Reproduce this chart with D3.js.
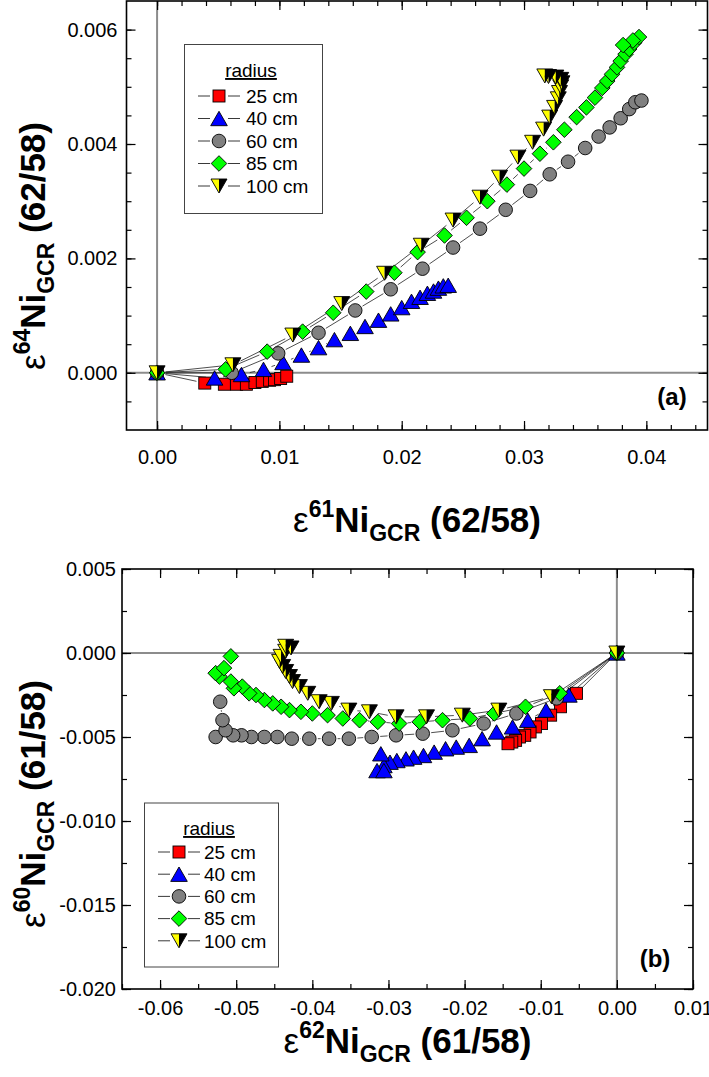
<!DOCTYPE html>
<html><head><meta charset="utf-8">
<script src="https://cdn.jsdelivr.net/npm/d3@7"></script>
<style>body{margin:0;background:#fff}svg{display:block}</style>
</head><body>
<svg id="c" width="709" height="1077"></svg>
<script>
// ---------- data ----------
const radii = ["25 cm", "40 cm", "60 cm", "85 cm", "100 cm"];
const legendTitle = "radius";

// Panel (a): x = ε61Ni_GCR (62/58), y = ε64Ni_GCR (62/58)
const a25x = [0, 0.0039, 0.0055, 0.0065, 0.0073, 0.0080, 0.0086, 0.0092, 0.0096, 0.0101, 0.0106];
const a25y = [0, -0.00018, -0.0002, -0.0002, -0.0002, -0.00017, -0.00015, -0.00013, -0.00012, -0.0001, -0.00006];
const a40x = [0, 0.0047, 0.0069, 0.0087, 0.0103, 0.0118, 0.0132, 0.0145, 0.0158, 0.0170, 0.0181, 0.0191, 0.0200, 0.0208, 0.0215, 0.0221, 0.0226, 0.0230, 0.0234, 0.0238];
const a40y = [0, -0.00009, -0.00003, 0.00006, 0.00018, 0.00031, 0.00044, 0.00058, 0.00069, 0.00081, 0.00092, 0.00103, 0.00114, 0.00125, 0.00132, 0.00139, 0.00143, 0.00148, 0.00152, 0.00153];
const a60x = [0, 0.0061, 0.0099, 0.0132, 0.0162, 0.0191, 0.0217, 0.0242, 0.0264, 0.0285, 0.0305, 0.0321, 0.0336, 0.0350, 0.0361, 0.0370, 0.0379, 0.0386, 0.0391, 0.0396];
const a60y = [0, 0.0000, 0.00034, 0.0007, 0.00109, 0.00146, 0.00182, 0.00219, 0.00252, 0.00285, 0.00318, 0.00347, 0.00369, 0.00393, 0.00413, 0.00429, 0.00445, 0.00461, 0.00473, 0.00476];
const a85x = [0, 0.0056, 0.0090, 0.0119, 0.0144, 0.0171, 0.0194, 0.0213, 0.0235, 0.0253, 0.0270, 0.0286, 0.0300, 0.0313, 0.0324, 0.0333, 0.0343, 0.0351, 0.0358, 0.0364, 0.0368, 0.0372, 0.0376, 0.0379, 0.0383, 0.0386, 0.0390, 0.0394, 0.0389, 0.0381];
const a85y = [0, 0.00006, 0.00037, 0.00072, 0.00105, 0.00142, 0.00175, 0.00211, 0.0024, 0.00271, 0.003, 0.00329, 0.00357, 0.00383, 0.00403, 0.00425, 0.00447, 0.00464, 0.00481, 0.00498, 0.0051, 0.00522, 0.00534, 0.00545, 0.00557, 0.00566, 0.00577, 0.00587, 0.00581, 0.00573];
const a100x = [0, 0.0062, 0.0111, 0.0151, 0.0186, 0.0216, 0.0242, 0.0264, 0.0280, 0.0295, 0.0307, 0.0316, 0.0321, 0.0325, 0.0328, 0.0329, 0.0330, 0.0331, 0.0330, 0.0326, 0.0320, 0.0317];
const a100y = [0, 0.00014, 0.00066, 0.00121, 0.00174, 0.00223, 0.00267, 0.00307, 0.00342, 0.00377, 0.00403, 0.00426, 0.00447, 0.00464, 0.00479, 0.0049, 0.005, 0.00507, 0.00513, 0.00517, 0.00518, 0.00519];

// Panel (b): x = ε62Ni_GCR (61/58), y = ε60Ni_GCR (61/58)
const b25x = [0, -0.0053, -0.0074, -0.0087, -0.0099, -0.0107, -0.0114, -0.0121, -0.0128, -0.0133, -0.0138, -0.0143];
const b25y = [0, -0.0024, -0.0032, -0.0037, -0.0042, -0.0044, -0.0047, -0.0049, -0.0050, -0.0052, -0.0053, -0.0054];
const b40x = [0, -0.0063, -0.0093, -0.0117, -0.0137, -0.0158, -0.0177, -0.0194, -0.0211, -0.0225, -0.0240, -0.0254, -0.0267, -0.0277, -0.0289, -0.0298, -0.0306, -0.0315, -0.0306, -0.0310];
const b40y = [0, -0.0025, -0.0034, -0.0040, -0.0044, -0.0047, -0.0051, -0.0055, -0.0056, -0.0057, -0.0059, -0.0061, -0.0062, -0.0063, -0.0064, -0.0065, -0.0067, -0.0070, -0.0070, -0.0060];
const b60x = [0, -0.0079, -0.0132, -0.0175, -0.0216, -0.0255, -0.0290, -0.0322, -0.0352, -0.0378, -0.0404, -0.0427, -0.0446, -0.0463, -0.0480, -0.0493, -0.0504, -0.0527, -0.0514, -0.0518, -0.0521];
const b60y = [0, -0.0027, -0.0036, -0.0042, -0.0046, -0.0048, -0.0049, -0.0050, -0.0051, -0.0051, -0.0051, -0.0051, -0.0050, -0.0050, -0.0050, -0.0049, -0.0049, -0.0050, -0.0046, -0.0040, -0.0029];
const b85x = [0, -0.0075, -0.0120, -0.0161, -0.0193, -0.0229, -0.0259, -0.0286, -0.0314, -0.0338, -0.0360, -0.0380, -0.0400, -0.0415, -0.0430, -0.0441, -0.0452, -0.0463, -0.0474, -0.0483, -0.0492, -0.0503, -0.0507, -0.0522, -0.0527, -0.0516, -0.0507];
const b85y = [0, -0.0024, -0.0032, -0.0036, -0.0039, -0.0040, -0.0041, -0.0042, -0.0041, -0.0040, -0.0039, -0.0037, -0.0036, -0.0035, -0.0034, -0.0032, -0.0030, -0.0028, -0.0025, -0.0024, -0.0020, -0.0021, -0.0017, -0.0014, -0.0012, -0.0009, -0.0002];
const b100x = [0, -0.0086, -0.0155, -0.0203, -0.0250, -0.0290, -0.0325, -0.0352, -0.0375, -0.0391, -0.0406, -0.0417, -0.0426, -0.0430, -0.0435, -0.0439, -0.0443, -0.0441, -0.0435, -0.0428, -0.0435];
const b100y = [0, -0.0026, -0.0034, -0.0037, -0.0038, -0.0038, -0.0035, -0.0034, -0.0030, -0.0029, -0.0024, -0.0020, -0.0017, -0.0014, -0.0011, -0.0008, -0.0005, -0.0002, 0.0001, 0.0003, 0.0004];

// tick labels
const aXTicks = [0, 0.01, 0.02, 0.03, 0.04];
const aYTicks = [0, 0.002, 0.004, 0.006];
const bXTicks = [-0.06, -0.05, -0.04, -0.03, -0.02, -0.01, 0, 0.01];
const bYTicks = [0.005, 0, -0.005, -0.01, -0.015, -0.02];

// ---------- styling ----------
const FONT = "Arial, 'Liberation Sans', sans-serif";
const markers = ["square", "triUp", "circle", "diamond", "triDown"];
const fills = ["#ff0000", "#0000ff", "#808080", "#00ff00", "#ffff00"];

const svg = d3.select("#c");

function drawMarker(g, type, fill) {
  if (type === "square") {
    g.append("rect").attr("x", -6).attr("y", -6).attr("width", 12).attr("height", 12).attr("fill", fill).attr("stroke", "#000").attr("stroke-width", 0.9);
  } else if (type === "circle") {
    g.append("circle").attr("r", 6.8).attr("fill", fill).attr("stroke", "#000").attr("stroke-width", 0.9);
  } else if (type === "triUp") {
    g.append("path").attr("d", "M0,-7.2L8.3,7.2L-8.3,7.2Z").attr("fill", fill).attr("stroke", "#000").attr("stroke-width", 0.9);
  } else if (type === "diamond") {
    g.append("path").attr("d", "M0,-7.8L7.8,0L0,7.8L-7.8,0Z").attr("fill", fill).attr("stroke", "#000").attr("stroke-width", 0.9);
  } else if (type === "triDown") {
    g.append("path").attr("d", "M-8,-7L0,-7L0,7Z").attr("fill", fill);
    g.append("path").attr("d", "M0,-7L8,-7L0,7Z").attr("fill", "#000");
    g.append("path").attr("d", "M-8,-7L8,-7L0,7Z").attr("fill", "none").attr("stroke", "#000").attr("stroke-width", 0.9);
  }
}

function axisTitle(g, x, y, rot, sup, tail) {
  const t = g.append("text")
    .attr("transform", `translate(${x},${y}) rotate(${rot})`)
    .attr("text-anchor", "middle")
    .attr("font-family", FONT).attr("font-weight", "bold").attr("font-size", 35).attr("fill", "#000");
  t.append("tspan").attr("font-weight", "normal").text("ε");
  t.append("tspan").attr("font-size", 23).attr("dy", -15).text(sup);
  t.append("tspan").attr("dy", 15).text("Ni");
  t.append("tspan").attr("font-size", 23).attr("dy", 9).text("GCR");
  t.append("tspan").attr("dy", -9).text(" " + tail);
}

function panel(cfg) {
  const g = svg.append("g");
  const x = d3.scaleLinear().domain(cfg.xDom).range([cfg.left, cfg.right]);
  const y = d3.scaleLinear().domain(cfg.yDom).range([cfg.bottom, cfg.top]);
  const W = cfg.right - cfg.left, H = cfg.bottom - cfg.top;

  // zero lines
  g.append("line").attr("x1", x(0)).attr("x2", x(0)).attr("y1", cfg.top).attr("y2", cfg.bottom)
    .attr("stroke", "#8c8c8c").attr("stroke-width", 2);
  g.append("line").attr("x1", cfg.left).attr("x2", cfg.right).attr("y1", y(0)).attr("y2", y(0))
    .attr("stroke", "#8c8c8c").attr("stroke-width", 2);

  const fmtX = d => (Math.abs(d) < 1e-12 ? 0 : d).toFixed(cfg.xDec);
  const fmtY = d => (Math.abs(d) < 1e-12 ? 0 : d).toFixed(cfg.yDec);

  function ticksAxis(axisGen, transform, values, size, labels, fmt, pad) {
    const a = axisGen.tickValues(values).tickSize(-size).tickPadding(pad || 3)
      .tickFormat(labels ? fmt : "");
    const ag = g.append("g").attr("transform", transform).call(a);
    ag.select(".domain").remove();
    ag.selectAll(".tick line").attr("stroke", "#000").attr("stroke-width", 1.2);
    ag.selectAll(".tick text").attr("font-family", FONT).attr("font-size", 20).attr("fill", "#000");
    return ag;
  }
  // major & minor ticks on all four sides
  ticksAxis(d3.axisBottom(x), `translate(0,${cfg.bottom})`, cfg.xMinor, 5, false);
  ticksAxis(d3.axisTop(x), `translate(0,${cfg.top})`, cfg.xMinor, 5, false);
  ticksAxis(d3.axisLeft(y), `translate(${cfg.left},0)`, cfg.yMinor, 5, false);
  ticksAxis(d3.axisRight(y), `translate(${cfg.right},0)`, cfg.yMinor, 5, false);
  ticksAxis(d3.axisBottom(x), `translate(0,${cfg.bottom})`, cfg.xTicks, 9, true, fmtX, cfg.xPad);
  ticksAxis(d3.axisTop(x), `translate(0,${cfg.top})`, cfg.xTicks, 9, false);
  ticksAxis(d3.axisLeft(y), `translate(${cfg.left},0)`, cfg.yTicks, 9, true, fmtY, cfg.yPad);
  ticksAxis(d3.axisRight(y), `translate(${cfg.right},0)`, cfg.yTicks, 9, false);

  // series: line with gaps, then markers
  const gap = 8.5;
  cfg.series.forEach((s) => {
    const pts = s.xs.map((v, k) => [x(v), y(s.ys[k])]);
    const lg = g.append("g");
    for (let k = 1; k < pts.length; k++) {
      const [x0, y0] = pts[k - 1], [x1, y1] = pts[k];
      const dx = x1 - x0, dy = y1 - y0, L = Math.hypot(dx, dy);
      if (L <= 2 * gap) continue;
      const ux = dx / L, uy = dy / L;
      lg.append("line").attr("x1", x0 + ux * gap).attr("y1", y0 + uy * gap)
        .attr("x2", x1 - ux * gap).attr("y2", y1 - uy * gap)
        .attr("stroke", "#222").attr("stroke-width", 0.8);
    }
  });
  cfg.series.forEach((s, i) => {
    s.xs.forEach((v, k) => {
      const mg = g.append("g").attr("transform", `translate(${x(v)},${y(s.ys[k])})`);
      drawMarker(mg, markers[i], fills[i]);
    });
  });

  // frame
  g.append("rect").attr("x", cfg.left).attr("y", cfg.top).attr("width", W).attr("height", H)
    .attr("fill", "none").attr("stroke", "#000").attr("stroke-width", 1.6);

  // legend
  const L = cfg.legend;
  g.append("rect").attr("x", L.x).attr("y", L.y).attr("width", L.w).attr("height", L.h)
    .attr("fill", "#fff").attr("stroke", "#444").attr("stroke-width", 1);
  g.append("text").attr("x", L.titleX).attr("y", L.titleY).attr("text-anchor", "middle")
    .attr("font-family", FONT).attr("font-size", 19).attr("text-decoration", "underline").text(legendTitle);
  radii.forEach((r, i) => {
    const cy = L.row0 + i * L.dy;
    g.append("line").attr("x1", L.mx - 21).attr("x2", L.mx - 9).attr("y1", cy).attr("y2", cy).attr("stroke", "#222").attr("stroke-width", 0.9);
    g.append("line").attr("x1", L.mx + 9).attr("x2", L.mx + 21).attr("y1", cy).attr("y2", cy).attr("stroke", "#222").attr("stroke-width", 0.9);
    drawMarker(g.append("g").attr("transform", `translate(${L.mx},${cy})`), markers[i], fills[i]);
    g.append("text").attr("x", L.tx).attr("y", cy).attr("dy", "0.36em")
      .attr("font-family", FONT).attr("font-size", 19).text(r);
  });

  // panel tag
  g.append("text").attr("x", cfg.tag[0]).attr("y", cfg.tag[1]).attr("text-anchor", "middle")
    .attr("font-family", FONT).attr("font-weight", "bold").attr("font-size", 24).text(cfg.tagText);

  axisTitle(g, (cfg.left + cfg.right) / 2, cfg.xTitleY, 0, cfg.xSup, cfg.xTail);
  axisTitle(g, cfg.yTitleX, cfg.yTitleY, -90, cfg.ySup, cfg.yTail);
}

panel({
  xDom: [-0.0025, 0.045], yDom: [-0.001, 0.0065],
  left: 126.5, right: 707.5, top: 1, bottom: 430,
  xTicks: aXTicks, yTicks: aYTicks,
  xMinor: d3.range(0, 0.0451, 0.002), yMinor: d3.range(-0.0005, 0.0065, 0.0005),
  xDec: 2, yDec: 3, xPad: 20, yPad: 9,
  series: [
    {xs: a25x, ys: a25y}, {xs: a40x, ys: a40y}, {xs: a60x, ys: a60y},
    {xs: a85x, ys: a85y}, {xs: a100x, ys: a100y}
  ],
  legend: {x: 184.5, y: 44.5, w: 138, h: 169, titleX: 251, titleY: 77, row0: 96, dy: 22.5, mx: 219, tx: 246},
  tag: [672, 405], tagText: "(a)",
  xTitleY: 532, xSup: "61", xTail: "(62/58)",
  yTitleX: 45, yTitleY: 246, ySup: "64", yTail: "(62/58)"
});

panel({
  xDom: [-0.065, 0.01], yDom: [-0.02, 0.005],
  left: 122, right: 693, top: 569, bottom: 989,
  xTicks: bXTicks, yTicks: bYTicks,
  xMinor: d3.range(-0.065, 0.0101, 0.005), yMinor: d3.range(-0.02, 0.0051, 0.0025),
  xDec: 2, yDec: 3, xPad: 12, yPad: 6,
  series: [
    {xs: b25x, ys: b25y}, {xs: b40x, ys: b40y}, {xs: b60x, ys: b60y},
    {xs: b85x, ys: b85y}, {xs: b100x, ys: b100y}
  ],
  legend: {x: 144.5, y: 803, w: 134, h: 164, titleX: 209, titleY: 835, row0: 852, dy: 22.2, mx: 179, tx: 204},
  tag: [655, 967], tagText: "(b)",
  xTitleY: 1053, xSup: "62", xTail: "(61/58)",
  yTitleX: 45, yTitleY: 804, ySup: "60", yTail: "(61/58)"
});
</script>
</body></html>
